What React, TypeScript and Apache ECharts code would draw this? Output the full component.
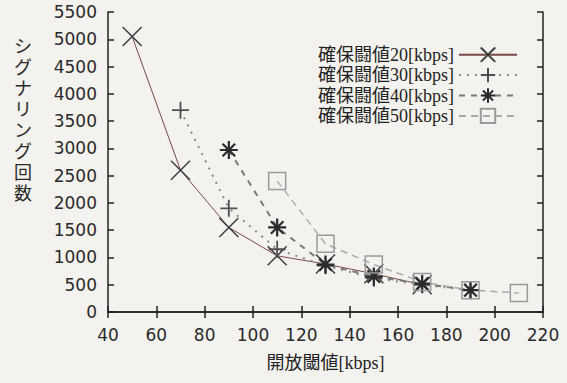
import React, { useEffect, useRef } from "react";
import * as echarts from "echarts";

const xTicks = [40, 60, 80, 100, 120, 140, 160, 180, 200, 220];
const seriesNames = [
  "確保闘値20[kbps]",
  "確保闘値30[kbps]",
  "確保闘値40[kbps]",
  "確保闘値50[kbps]",
];
const s20 = [[50, 5050], [70, 2600], [90, 1550], [110, 1030], [130, 880], [150, 700], [170, 500]];
const s30 = [[70, 3700], [90, 1900], [110, 1150], [130, 850], [150, 620], [170, 500], [190, 400]];
const s40 = [[90, 2970], [110, 1550], [130, 870], [150, 650], [170, 520], [190, 400]];
const s50 = [[110, 2400], [130, 1250], [150, 870], [170, 550], [190, 400], [210, 350]];
const yAxisTitle = "シグナリング回数";
const xAxisTitle = "開放閾値[kbps]";

const SYM_X = "path://M0,0L20,20M20,0L0,20";
const SYM_PLUS = "path://M10,0L10,20M0,10L20,10";
const SYM_STAR = "path://M10,0L10,20M0,10L20,10M3,3L17,17M17,3L3,17";
const SYM_SQ = "path://M0,0L20,0L20,20L0,20Z";

export default function App() {
  const ref = useRef<HTMLDivElement>(null);
  useEffect(() => {
    if (!ref.current) return;
    const chart = echarts.init(ref.current, undefined, { renderer: "svg" });
    const axisLine = { show: true, lineStyle: { color: "#222", width: 1.5 } };
    const tick = { show: true, inside: true, length: 6, lineStyle: { color: "#222", width: 1.5 } };
    const labelFont = { fontFamily: "DejaVu Sans", fontSize: 17, color: "#2a2a2a" };
    const mk = (name: string, data: number[][], symbol: string, size: number, symColor: string, symW: number, line: any) => ({
      name,
      type: "line",
      data,
      symbol,
      symbolSize: size,
      showAllSymbol: true,
      itemStyle: { color: "none", borderColor: symColor, borderWidth: symW },
      lineStyle: line,
      emphasis: { disabled: true },
    });
    const titleChars = yAxisTitle.split("").map((ch, i) => ({
      type: "text",
      left: 14,
      top: 36 + i * 21,
      style: {
        text: ch,
        fontFamily: "Noto Sans CJK JP",
        fontSize: 18,
        fill: "#2a2a2a",
      },
    }));
    chart.setOption({
      animation: false,
      backgroundColor: "#f4f2ee",
      grid: { left: 108, right: 24, top: 12, bottom: 71 },
      legend: {
        orient: "vertical",
        right: 44,
        top: 40,
        align: "right",
        itemWidth: 58,
        itemHeight: 18,
        itemGap: 1,
        textStyle: { fontFamily: "Liberation Serif, Noto Sans CJK JP", fontSize: 18, color: "#222" },
        data: seriesNames,
      },
      xAxis: [
        {
          type: "value",
          min: 40,
          max: 220,
          interval: 20,
          axisLine,
          axisTick: tick,
          splitLine: { show: false },
          axisLabel: { ...labelFont, margin: 14, customValues: xTicks },
          name: xAxisTitle,
          nameLocation: "middle",
          nameGap: 42,
          nameTextStyle: { fontFamily: "Liberation Serif, Noto Sans CJK JP", fontSize: 18, color: "#222" },
        },
        {
          type: "value",
          position: "top",
          min: 40,
          max: 220,
          interval: 20,
          axisLine,
          axisTick: tick,
          splitLine: { show: false },
          axisLabel: { show: false },
        },
      ],
      yAxis: [
        {
          type: "value",
          min: 0,
          max: 5500,
          interval: 500,
          axisLine,
          axisTick: tick,
          splitLine: { show: false },
          axisLabel: { ...labelFont, margin: 11, formatter: (v: number) => String(v) },
        },
        {
          type: "value",
          position: "right",
          min: 0,
          max: 5500,
          interval: 500,
          axisLine,
          axisTick: tick,
          splitLine: { show: false },
          axisLabel: { show: false },
        },
      ],
      graphic: titleChars,
      series: [
        mk(seriesNames[0], s20, SYM_X, 19, "#3e3e3e", 1.5, { color: "#7a4a4a", width: 1, type: "solid" }),
        mk(seriesNames[1], s30, SYM_PLUS, 17, "#505050", 1.8, { color: "#8a8a8a", width: 2, type: [2, 6] }),
        mk(seriesNames[2], s40, SYM_STAR, 18, "#2a2a2a", 2.2, { color: "#7a7a7a", width: 2, type: [6, 6] }),
        mk(seriesNames[3], s50, SYM_SQ, 17, "#9a9a9a", 1.5, { color: "#aaaaaa", width: 1.5, type: [7, 5] }),
      ],
    });
    return () => chart.dispose();
  }, []);
  return <div ref={ref} style={{ position: "absolute", left: 0, top: 0, width: 567, height: 383 }} />;
}
